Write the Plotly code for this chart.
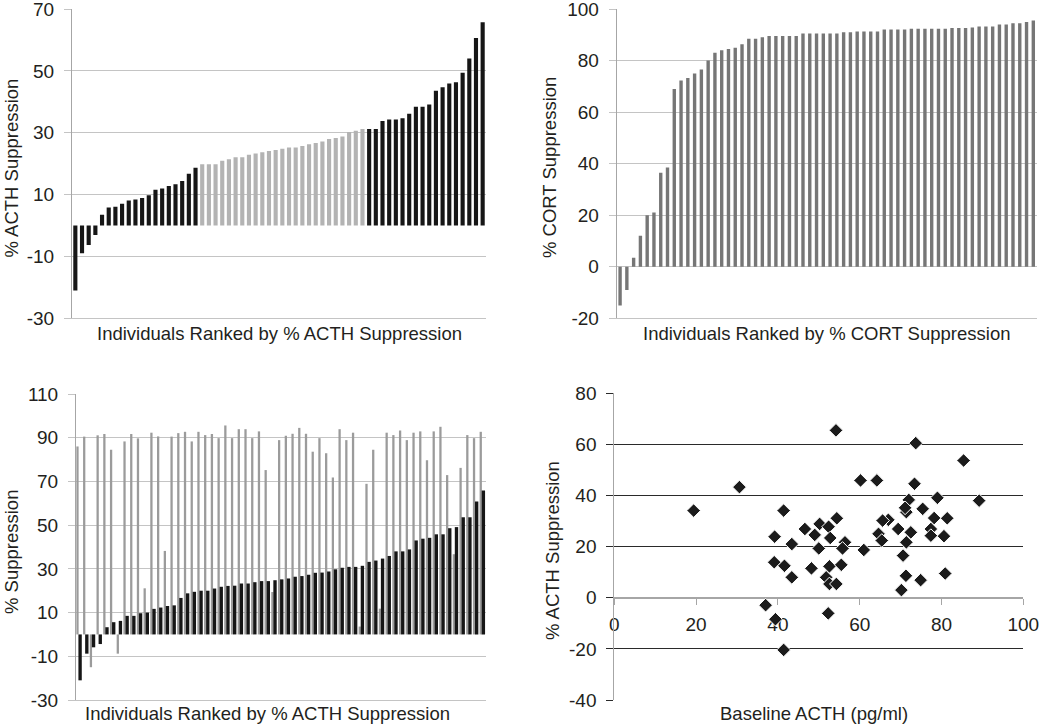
import plotly.graph_objects as go

# top left: % ACTH suppression, individuals ranked (black = outer groups, grey = middle group)
acth_low = [-21, -9, -6.3, -3.1, 3.5, 5.8, 6.1, 7.0, 8.1, 8.4, 8.9, 9.8, 11.6, 12.0,
            12.8, 13.3, 14.4, 16.7, 18.7]
acth_mid = [19.8, 19.8, 19.8, 20.9, 21.4, 22.1, 22.1, 22.9, 23.3, 23.7, 24.1, 24.4, 24.8,
            25.2, 25.2, 25.7, 26.3, 26.7, 27.2, 28.0, 28.3, 28.8, 30.2, 30.6, 31.2]
acth_high = [31.2, 31.2, 33.8, 34.3, 34.3, 34.7, 36.1, 38.4, 38.4, 39.1, 43.6, 44.7, 45.9,
             46.3, 49.4, 54.0, 60.6, 65.7]

# top right: % CORT suppression, ranked
cort_ranked = [-15, -9, 3.5, 12, 20, 21, 36.5, 38.5, 69, 72.3, 73.2, 75, 76.5, 80, 83, 84,
               84.5, 85, 86.3, 88.5, 88.5, 89, 89.5, 89.5, 89.5, 89.5, 89.5, 90.5, 90.5,
               90.5, 90.5, 90.5, 90.5, 91, 91, 91.3, 91.3, 91.3, 91.3, 92, 92, 92, 92, 92.3,
               92.3, 92.3, 92.3, 92.3, 92.3, 92.6, 92.6, 92.6, 92.8, 93.2, 93.2, 93.2, 94,
               94, 94.5, 94.5, 95, 95.5]

# bottom left: paired values, individuals ranked by % ACTH suppression
pair_acth = [-21, -8.8, -5.9, -4.4, 3.3, 5.6, 6.2, 8.5, 8.5, 9.7, 10, 11.7, 12.3, 13, 13.3,
             16.7, 18.8, 19.5, 20, 20, 21, 21.8, 22.2, 22.3, 23.3, 23.3, 23.9, 24.4, 24.4,
             24.8, 25.2, 25.6, 26.4, 26.7, 27.3, 28.2, 28.3, 28.8, 29.8, 30.5, 30.9, 30.9,
             31.4, 33.2, 33.8, 34.7, 35.9, 38, 38, 38.9, 43, 43.8, 44.2, 45.8, 45.8, 48.6,
             49.1, 53.6, 53.6, 60.8, 65.8]
pair_cort = [86, 90.5, -15, 91.1, 91.7, 84.5, -8.8, 88.3, 91.7, 89.7, 21.1, 92.3, 90.6, 38.2,
             90.5, 92.1, 92.7, 88.3, 92.7, 91.2, 91.7, 89.8, 95.6, 89.8, 93.9, 93.9, 89.8,
             92.9, 75.2, 19.4, 88.9, 90.9, 91.8, 94.5, 91.8, 83.6, 89.8, 82.9, 71.8, 93.9,
             88.9, 92.3, 3.6, 68.9, 84.5, 11.8, 92.3, 91.2, 93.3, 88.9, 92.3, 92.9, 79.7,
             92.9, 95, 72.9, 36.7, 76.2, 91.2, 89.8, 92.7]

# bottom right: baseline ACTH vs % ACTH suppression
base_acth = [19.4, 30.6, 41.4, 46.6, 50.2, 54.4, 49.0, 52.4, 52.8, 39.2, 43.4, 50.0, 56.4,
             55.8, 39.1, 41.6, 43.4, 48.2, 52.6, 55.5, 51.8, 52.6, 54.3, 37.0, 39.4, 52.3,
             41.4, 54.2, 73.7, 85.4, 60.2, 64.2, 73.4, 72.0, 79.0, 89.2, 67.0, 71.4, 71.1,
             75.4, 78.2, 81.4, 69.4, 72.5, 77.4, 77.4, 65.6, 64.6, 65.4, 80.6, 71.4, 61.0,
             70.6, 71.3, 74.9, 80.9, 70.2]
supp_acth = [34.1, 43.3, 34.1, 26.9, 28.9, 31.1, 24.6, 27.8, 23.4, 23.9, 21.0, 19.3, 21.7,
             19.3, 13.9, 12.5, 8.0, 11.5, 12.3, 12.9, 8.0, 5.4, 5.4, -2.9, -8.4, -6.1,
             -20.4, 65.5, 60.5, 53.7, 45.9, 45.9, 44.6, 38.3, 39.1, 38.0, 30.5, 33.5, 35.2,
             34.8, 31.2, 31.1, 26.9, 25.6, 26.9, 24.3, 30.2, 25.0, 22.4, 24.1, 21.7, 18.7,
             16.5, 8.6, 6.9, 9.5, 3.0]

yticks_a = [-30, -10, 10, 30, 50, 70]
yticks_b = [-20, 0, 20, 40, 60, 80, 100]
yticks_c = [-30, -10, 10, 30, 50, 70, 90, 110]
yticks_d = [-40, -20, 0, 20, 40, 60, 80]
xticks_d = [0, 20, 40, 60, 80, 100]

W, H = 1050, 724
FONT = "Liberation Sans, Arial, Helvetica, sans-serif"
TXT = "#231f20"
GRID = "#c4c4c4"
AXLINE = "#a6a6a6"
BLACK = "#161616"


def dom_x(left, right):
    return [left / W, right / W]


def dom_y(top, bottom):
    return [1 - bottom / H, 1 - top / H]


def labels(vals):
    return [str(v) for v in vals]


# plot boxes in pixels (left, right, top, bottom)
box_a = (72, 486, 9, 318.3)
box_b = (616.7, 1036.7, 9, 318.3)
box_c = (76, 486, 394, 700)
box_d = (614.3, 1023.3, 393.3, 700)

fig = go.Figure()

acth_all = acth_low + acth_mid + acth_high
colors_a = [BLACK] * len(acth_low) + ["#b3b3b3"] * len(acth_mid) + [BLACK] * len(acth_high)
fig.add_trace(go.Bar(x=list(range(1, len(acth_all) + 1)), y=acth_all, width=0.62,
                     marker=dict(color=colors_a, line_width=0), xaxis="x", yaxis="y"))

fig.add_trace(go.Bar(x=list(range(1, len(cort_ranked) + 1)), y=cort_ranked, width=0.5,
                     marker=dict(color="#767676", line_width=0), xaxis="x2", yaxis="y2"))

idx_c = list(range(1, len(pair_acth) + 1))
fig.add_trace(go.Bar(x=idx_c, y=pair_cort, width=0.34, offset=-0.45,
                     marker=dict(color="#9b9b9b", line_width=0), xaxis="x3", yaxis="y3"))
fig.add_trace(go.Bar(x=idx_c, y=pair_acth, width=0.5, offset=-0.14,
                     marker=dict(color=BLACK, line_width=0), xaxis="x3", yaxis="y3"))

fig.add_trace(go.Scatter(x=base_acth, y=supp_acth, mode="markers",
                         marker=dict(symbol="diamond", size=10.5, color="#1b1b1b",
                                     line=dict(color="white", width=1)),
                         xaxis="x4", yaxis="y4"))

tickfont = dict(family=FONT, size=19, color=TXT)


def bar_yaxis(box, ticks, anchor):
    return dict(domain=dom_y(box[2], box[3]), range=[ticks[0], ticks[-1]],
                tickvals=ticks, ticktext=labels(ticks), showgrid=True, gridcolor=GRID,
                gridwidth=1, zeroline=False, showline=True, linecolor=AXLINE,
                ticks="outside", ticklen=7, tickcolor=GRID, tickfont=tickfont,
                ticklabelstandoff=6, ticklabeloverflow="allow", anchor=anchor,
                automargin=False)


def bar_xaxis(box, n, anchor):
    return dict(domain=dom_x(box[0], box[1]), range=[0.5, n + 0.5], showticklabels=False,
                showgrid=False, zeroline=False, showline=True, linecolor=GRID,
                ticks="", anchor=anchor, automargin=False)


# where y=0 sits on the scatter panel, for the crossing x axis
yd = dom_y(box_d[2], box_d[3])
zero_pos = yd[0] + (0 - yticks_d[0]) / (yticks_d[-1] - yticks_d[0]) * (yd[1] - yd[0])

fig.update_layout(
    template="none",
    width=W, height=H,
    margin=dict(l=0, r=0, t=0, b=0, pad=0),
    paper_bgcolor="white", plot_bgcolor="white",
    showlegend=False, barmode="overlay",
    font=dict(family=FONT, color=TXT),
    xaxis=bar_xaxis(box_a, len(acth_all), "y"),
    yaxis=bar_yaxis(box_a, yticks_a, "x"),
    xaxis2=bar_xaxis(box_b, len(cort_ranked), "y2"),
    yaxis2=bar_yaxis(box_b, yticks_b, "x2"),
    xaxis3=bar_xaxis(box_c, len(pair_acth), "y3"),
    yaxis3=bar_yaxis(box_c, yticks_c, "x3"),
    xaxis4=dict(domain=dom_x(box_d[0], box_d[1]), range=[xticks_d[0], xticks_d[-1]],
                tickvals=xticks_d, ticktext=labels(xticks_d), showgrid=False,
                zeroline=False, showline=True, linecolor=AXLINE, ticks="outside",
                ticklen=6, tickcolor=AXLINE, tickfont=tickfont, ticklabelstandoff=3,
                ticklabeloverflow="allow", anchor="free", position=zero_pos,
                layer="below traces", automargin=False),
    yaxis4=dict(domain=yd, range=[yticks_d[0], yticks_d[-1]], tickvals=yticks_d,
                ticktext=labels(yticks_d), showgrid=True, gridcolor="#2a2a2a", gridwidth=1,
                zeroline=True, zerolinecolor=AXLINE, zerolinewidth=1, showline=True,
                linecolor=AXLINE, ticks="outside", ticklen=7, tickcolor="#2a2a2a",
                tickfont=tickfont, ticklabelstandoff=6, ticklabeloverflow="allow",
                anchor="x4", automargin=False),
)

titlefont = dict(family=FONT, size=18.5, color=TXT)


def add_text(text, x, y, angle=0):
    fig.add_annotation(text=text, x=x / W, y=1 - y / H, xref="paper", yref="paper",
                       xanchor="center", yanchor="middle", textangle=angle,
                       showarrow=False, font=titlefont)


add_text("% ACTH Suppression", 11.5, 168, -90)
add_text("Individuals Ranked by % ACTH Suppression", 279, 333)
add_text("% CORT Suppression", 550, 168, -90)
add_text("Individuals Ranked by % CORT Suppression", 826.5, 333)
add_text("% Suppression", 11.5, 552.5, -90)
add_text("Individuals Ranked by % ACTH Suppression", 267.5, 713)
add_text("% ACTH Suppression", 552, 551, -90)
add_text("Baseline ACTH (pg/ml)", 814, 713)

# the page body has a default 8px margin; drop it so the figure sits at the window corner
fig.write_html("out.html", config={"displayModeBar": False},
               post_script="document.body.style.margin='0';")
